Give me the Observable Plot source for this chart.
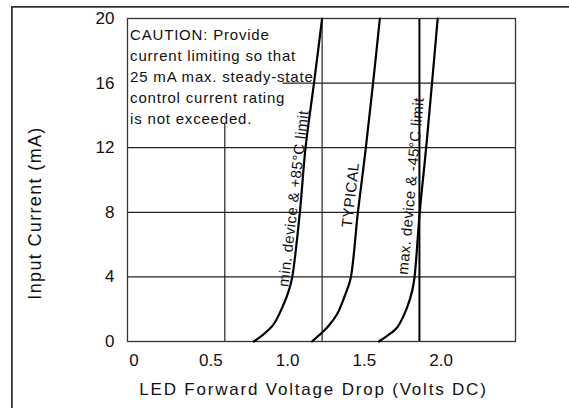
<!DOCTYPE html>
<html><head><meta charset="utf-8">
<script src="https://cdn.jsdelivr.net/npm/d3@7"></script>
<script src="https://cdn.jsdelivr.net/npm/@observablehq/plot@0.6"></script>
<style>
html,body{margin:0;padding:0;background:#fff;overflow:hidden;}
#chart{position:absolute;left:0;top:0;}
g[aria-description="caution"] text{letter-spacing:0.8px}
g[aria-description="curve label"] text{letter-spacing:0.4px}
g[aria-description="x label"] text{letter-spacing:1.8px}
g[aria-description="y label"] text{letter-spacing:1.35px}
</style></head>
<body>
<div id="chart"></div>
<script>
// Input current (mA) and forward voltage (V)
const minI = [0, 0.46, 1.08, 2.32, 3.15, 3.97, 8, 12, 16, 20];
const minV = [0.780, 0.845, 0.910, 0.975, 1.008, 1.030, 1.080, 1.117, 1.172, 1.225];
const typI = [0, 0.56, 0.97, 1.7, 2.94, 3.87, 8, 12, 16, 20];
const typV = [1.159, 1.225, 1.268, 1.323, 1.377, 1.410, 1.458, 1.510, 1.557, 1.601];
const maxI = [0, 0.35, 0.87, 2.11, 3.15, 3.97, 8, 12, 16, 20];
const maxV = [1.594, 1.649, 1.714, 1.779, 1.812, 1.827, 1.861, 1.903, 1.941, 1.978];

const xTicks = [0, 0.5, 1.0, 1.5, 2.0];
const xTickLabels = ["0", "0.5", "1.0", "1.5", "2.0"];
const yTicks = [0, 4, 8, 12, 16, 20];

const xLabel = "LED Forward Voltage Drop (Volts DC)";
const yLabel = "Input Current (mA)";
const cautionLines = [
  "CAUTION: Provide",
  "current limiting so that",
  "25 mA max. steady-state",
  "control current rating",
  "is not exceeded."
];

// grid lines (as drawn in the original)
const hGridFull = [4, 8, 12];
const hGridPartial = [{i: 16, v1: 0.971, v2: 2.485}];
const vGridPartial = [{v: 0.591, i1: 0, i2: 13.44}];
const vGridFull = [1.225];
const vGridBold = [1.859];

// curve annotations
const curveLabels = [
  {label: "min. device & +85°C limit", v: 1.0876, i: 8.82, angle: -83.4, dx: -2.5},
  {label: "TYPICAL", v: 1.4715, i: 9.04, angle: -83.6, dx: -4.5},
  {label: "max. device & -45°C limit", v: 1.8778, i: 9.6, angle: -84.8, dx: -6.5}
];

const rows = [];
minI.forEach((d, k) => rows.push({series: "min", i: d, v: minV[k]}));
typI.forEach((d, k) => rows.push({series: "typ", i: d, v: typV[k]}));
maxI.forEach((d, k) => rows.push({series: "max", i: d, v: maxV[k]}));

const font = "'Liberation Sans', Arial, Helvetica, sans-serif";

const plot = Plot.plot({
  width: 569, height: 408,
  marginLeft: 127, marginRight: 54, marginTop: 18, marginBottom: 67,
  style: {background: "white", fontFamily: font, fontSize: "17px", color: "#111"},
  x: {domain: [-0.043, 2.485]},
  y: {domain: [0, 20]},
  marks: [
    Plot.ruleY(hGridFull, {stroke: "#222", strokeWidth: 1.3}),
    Plot.ruleY(hGridPartial, {y: "i", x1: "v1", x2: "v2", stroke: "#222", strokeWidth: 1.3}),
    Plot.ruleX(vGridPartial, {x: "v", y1: "i1", y2: "i2", stroke: "#222", strokeWidth: 1.2}),
    Plot.ruleX(vGridFull, {stroke: "#333", strokeWidth: 1.3}),
    Plot.ruleX(vGridBold, {stroke: "#000", strokeWidth: 2}),
    Plot.frame({stroke: "#333", strokeWidth: 1.3}),
    Plot.line(rows, {x: "v", y: "i", z: "series", curve: "catmull-rom", stroke: "#000", strokeWidth: 2.2}),
    ...curveLabels.map(a => Plot.text([a], {
      x: "v", y: "i", text: "label", rotate: a.angle, dx: a.dx,
      lineAnchor: "bottom", textAnchor: "middle", fontSize: 15, fill: "#111", ariaDescription: "curve label"
    })),
    Plot.text([cautionLines.join("\n")], {
      text: d => d, frameAnchor: "top-left", textAnchor: "start", lineAnchor: "top",
      dx: 2.6, dy: 6.7, fontSize: 15, lineHeight: 1.4, fill: "#111", ariaDescription: "caution"
    }),
    Plot.axisX(xTicks, {tickSize: 0, tickPadding: 12, tickFormat: d => xTickLabels[xTicks.indexOf(d)], label: null, fontSize: 17}),
    Plot.axisY(yTicks, {tickSize: 0, tickPadding: 13, label: null, fontSize: 17}),
    Plot.text([xLabel], {text: d => d, frameAnchor: "bottom", textAnchor: "middle", lineAnchor: "middle", dx: -8, dy: 48, fontSize: 17, fill: "#111", ariaDescription: "x label"}),
    Plot.text([yLabel], {text: d => d, frameAnchor: "left", textAnchor: "middle", rotate: -90, lineAnchor: "middle", dx: -92, dy: 33, fontSize: 18, fill: "#111", ariaDescription: "y label"})
  ]
});
// decorative outer border of the original figure (page frame, top and left edges visible)
d3.select(plot).append("path")
  .attr("d", "M11.9,420V6.9H580")
  .attr("fill", "none").attr("stroke", "#333").attr("stroke-width", 1.8);
document.getElementById("chart").appendChild(plot);
</script>
</body></html>
